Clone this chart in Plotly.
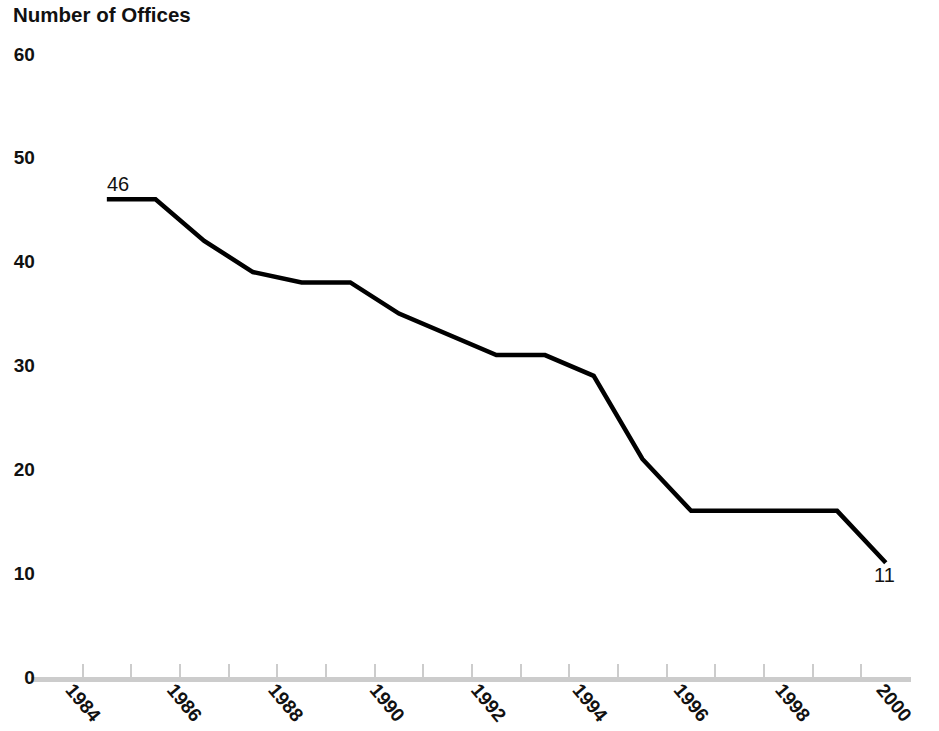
import plotly.graph_objects as go

# ---- data ----
years = [1984, 1985, 1986, 1987, 1988, 1989, 1990, 1991, 1992,
         1993, 1994, 1995, 1996, 1997, 1998, 1999, 2000]
offices = [46, 46, 42, 39, 38, 38, 35, 33, 31,
           31, 29, 21, 16, 16, 16, 16, 11]
label_years = [1984, 1986, 1988, 1990, 1992, 1994, 1996, 1998, 2000]
y_ticks = [0, 10, 20, 30, 40, 50, 60]
y_title = "Number of Offices"

FONT = "Liberation Sans, Arial, sans-serif"
W, H = 939, 731
PX_L, PX_R = 31, 916  # plot area horizontal extent (px)

fig = go.Figure()
fig.add_trace(go.Scatter(
    x=years, y=offices, mode="lines",
    line=dict(color="black", width=4.5),
    hoverinfo="skip", showlegend=False,
))
# invisible trace on overlay axis carrying the year labels
fig.add_trace(go.Scatter(
    x=label_years, y=[None] * len(label_years), xaxis="x2", yaxis="y",
    mode="markers", showlegend=False, hoverinfo="skip",
))

# end-point value labels
fig.add_annotation(x=years[0], y=offices[0], text=str(offices[0]),
                   xanchor="left", yanchor="bottom", showarrow=False,
                   yshift=2, xshift=-2,
                   font=dict(family=FONT, size=20, color="#111"))
fig.add_annotation(x=years[-1], y=offices[-1], text=str(offices[-1]),
                   xanchor="center", yanchor="top", showarrow=False,
                   yshift=1, xshift=-1,
                   font=dict(family=FONT, size=20, color="#111"))

tick_pos = [y - 0.5 for y in years] + [years[-1] + 0.5]
px_per_year = 49.0
x_hi = years[-1] + 0.5
x_lo = x_hi - (PX_R - PX_L) / px_per_year

lab_px = 50.96
lab_tick_1992 = 479.9
x2_lo = 1992 - (lab_tick_1992 - PX_L) / lab_px
x2_hi = x2_lo + (PX_R - PX_L) / lab_px

fig.update_layout(
    width=W, height=H,
    margin=dict(l=0, r=0, t=54, b=54),
    paper_bgcolor="white", plot_bgcolor="white",
    font=dict(family=FONT, color="#111"),
    title=dict(text=y_title, x=13 / W, xanchor="left", xref="container",
               y=1 - 8 / H, yanchor="top", yref="container",
               font=dict(family=FONT, size=20.5, weight="bold", color="#111")),
    xaxis=dict(domain=[PX_L / W, PX_R / W], range=[x_lo, x_hi + 0.02],
               tickvals=tick_pos, showticklabels=False,
               ticks="inside", ticklen=13, tickwidth=2, tickcolor="#cccccc",
               showline=True, linecolor="#cccccc", linewidth=5,
               showgrid=False, zeroline=False, fixedrange=True),
    xaxis2=dict(domain=[PX_L / W, PX_R / W], range=[x2_lo, x2_hi],
                overlaying="x", anchor="y", side="bottom",
                tickvals=label_years, ticktext=[str(v) for v in label_years],
                tickangle=50, ticks="", showline=False, showgrid=False,
                zeroline=False, ticklabelstandoff=-3,
                tickfont=dict(family=FONT, size=19, weight="bold", color="#111")),
    yaxis=dict(range=[0, 60], tickvals=y_ticks, anchor="free",
               position=35 / W, showline=False, showgrid=False,
               zeroline=False, ticks="",
               tickfont=dict(family=FONT, size=19, weight="bold", color="#111")),
)

fig.write_html("out.html",
               config={"displayModeBar": False, "staticPlot": True},
               post_script="document.body.style.margin='0';")
